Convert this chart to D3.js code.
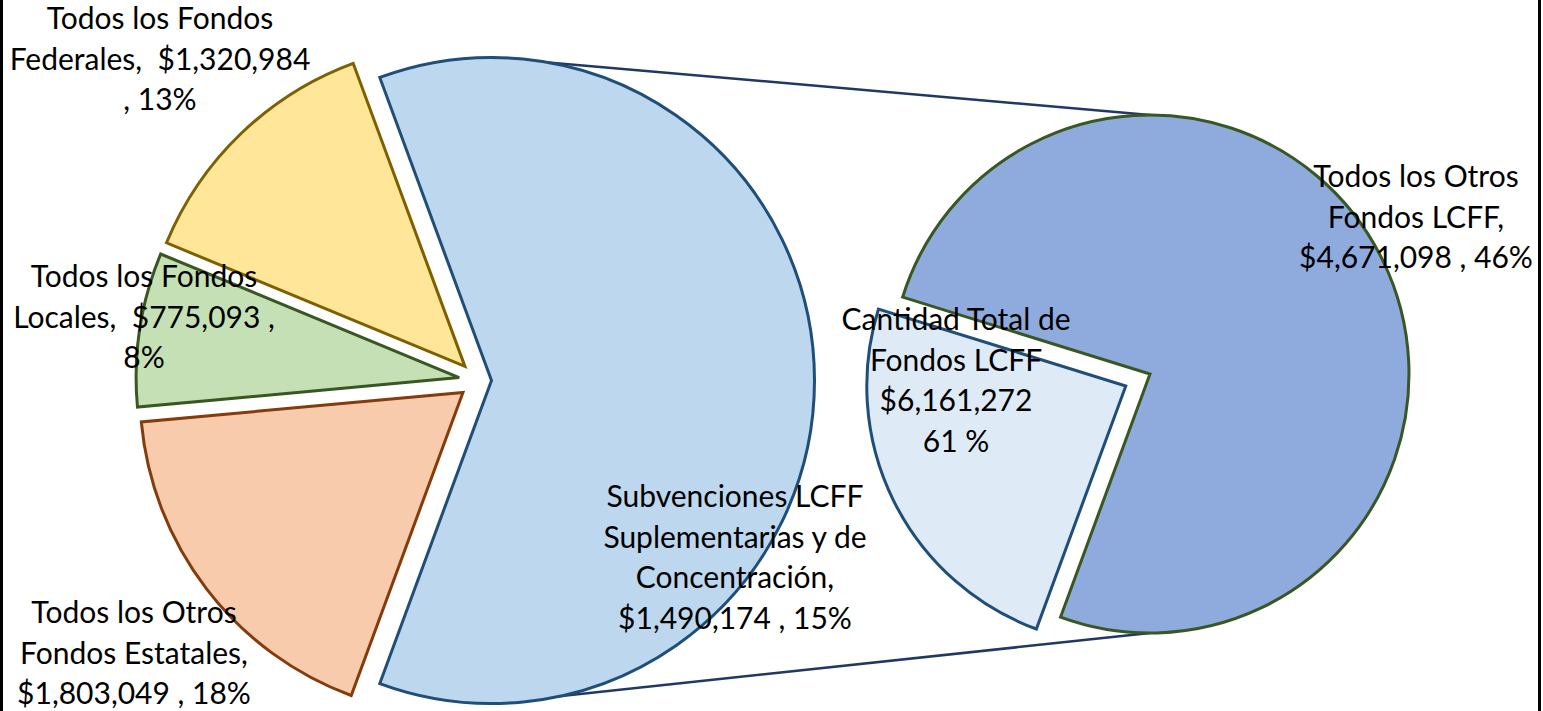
<!DOCTYPE html>
<html lang="es">
<head>
<meta charset="UTF-8">
<title>Fondos LCFF</title>
<script src="https://d3js.org/d3.v7.min.js"></script>
<style>
  body { margin: 0; background: #fff; }
  svg { display: block; }
  text { font-family: Lato, 'Open Sans', sans-serif; font-size: 30px; fill: #000; white-space: pre; }
</style>
</head>
<body>
<svg width="1543" height="711"></svg>
<script>
// first pie: the LCFF total plus the other funds
const mainNames  = ["Cantidad Total de Fondos LCFF", "Todos los Otros Fondos Estatales", "Todos los Fondos Locales", "Todos los Fondos Federales"];
const mainValues = [6161272, 1803049, 775093, 1320984];
const mainLabels = [
  ["Cantidad Total de", "Fondos LCFF", "$6,161,272", "61 %"],
  ["Todos los Otros", "Fondos Estatales,", "$1,803,049 , 18%"],
  ["Todos los Fondos", "Locales,  $775,093 ,", "8%"],
  ["Todos los Fondos", "Federales,  $1,320,984", ", 13%"]
];

// second pie: how the LCFF total splits
const subNames  = ["Subvenciones LCFF Suplementarias y de Concentración", "Todos los Otros Fondos LCFF"];
const subValues = [1490174, 4671098];
const subLabels = [
  ["Subvenciones LCFF", "Suplementarias y de", "Concentración,", "$1,490,174 , 15%"],
  ["Todos los Otros", "Fondos LCFF,", "$4,671,098 , 46%"]
];

const svg = d3.select("svg");
const deg = Math.PI / 180;

// layout
const main = {cx: 478.5, cy: 380.5, r: 323, explode: [13, 19.6, 19.6, 19.6],
  fill: ["#bdd7ee", "#f8cbad", "#c5e0b4", "#ffe699"],
  stroke: ["#1f4e79", "#843c0c", "#385723", "#7f6000"],
  labelAt: [[956, 330], [134, 623], [144, 287], [160, 29]]};
const sub = {cx: 1150, cy: 374, r: 259, explode: [27, 0], start: 200.2 * deg,
  fill: ["#deebf7", "#8faadc"],
  stroke: ["#1f4e79", "#385723"],
  labelAt: [[735, 507], [1416, 187]]};
const lineH = 40.5;

// rotate the first pie so the LCFF slice faces the second pie
const mainTotal = d3.sum(mainValues);
const mainStart = Math.PI / 2 - Math.PI * mainValues[0] / mainTotal;

const mainArcs = d3.pie().sort(null).value(d => d)
  .startAngle(mainStart).endAngle(mainStart + 2 * Math.PI)(mainValues);
const subArcs = d3.pie().sort(null).value(d => d)
  .startAngle(sub.start).endAngle(sub.start + 2 * Math.PI)(subValues);

function shift(a, dist) {
  const m = (a.startAngle + a.endAngle) / 2;
  return [Math.sin(m) * dist, -Math.cos(m) * dist];
}

// connector lines from the LCFF slice to the second pie
const bigShift = shift(mainArcs[0], main.explode[0]);
const bx = main.cx + bigShift[0];
svg.selectAll("line.conn")
  .data([-1, 1])
  .join("line")
  .attr("class", "conn")
  .attr("x1", bx)
  .attr("y1", s => main.cy + bigShift[1] + s * main.r)
  .attr("x2", sub.cx)
  .attr("y2", s => sub.cy + s * sub.r)
  .attr("stroke", "#1f3864")
  .attr("stroke-width", 2.5);

const arcMain = d3.arc().innerRadius(0).outerRadius(main.r);
const arcSub = d3.arc().innerRadius(0).outerRadius(sub.r);

svg.append("g").selectAll("path")
  .data(mainArcs)
  .join("path")
  .attr("d", arcMain)
  .attr("transform", (d, i) => {
    const [dx, dy] = shift(d, main.explode[i]);
    return `translate(${main.cx + dx},${main.cy + dy})`;
  })
  .attr("fill", (d, i) => main.fill[i])
  .attr("stroke", (d, i) => main.stroke[i])
  .attr("stroke-width", 3)
  .attr("stroke-linejoin", "miter");

svg.append("g").selectAll("path")
  .data(subArcs)
  .join("path")
  .attr("d", arcSub)
  .attr("transform", (d, i) => {
    const [dx, dy] = shift(d, sub.explode[i]);
    return `translate(${sub.cx + dx},${sub.cy + dy})`;
  })
  .attr("fill", (d, i) => sub.fill[i])
  .attr("stroke", (d, i) => sub.stroke[i])
  .attr("stroke-width", 3);

// data labels
function addLabels(lines, pos) {
  svg.append("g").selectAll("text")
    .data(lines)
    .join("text")
    .attr("text-anchor", "middle")
    .attr("transform", (d, i) => `translate(${pos[i][0]},${pos[i][1]})`)
    .selectAll("tspan")
    .data(d => d)
    .join("tspan")
    .attr("x", 0)
    .attr("y", (d, j) => j * lineH)
    .text(d => d);
}
addLabels(mainLabels, main.labelAt);
addLabels(subLabels, sub.labelAt);

// chart frame edges
svg.selectAll("line.frame")
  .data([1.5, 1539.5])
  .join("line")
  .attr("class", "frame")
  .attr("x1", d => d).attr("x2", d => d)
  .attr("y1", 0).attr("y2", 711)
  .attr("stroke", "#000")
  .attr("stroke-width", 3);
</script>
</body>
</html>
